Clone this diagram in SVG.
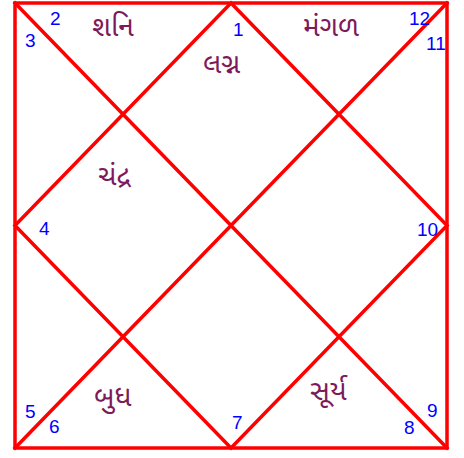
<svg xmlns="http://www.w3.org/2000/svg" width="464" height="458" viewBox="0 0 464 458">
<style>
.ln{stroke:#ff0000;stroke-width:3.5;fill:none;stroke-linecap:square}
.n{font-family:"Liberation Sans",Arial,sans-serif;font-size:19px;fill:#0000ff}
.p{font-family:"Noto Sans Gujarati","Lohit Gujarati","Shruti","Noto Sans",sans-serif;font-size:28px;fill:#7d1a5a}
</style>
<rect width="464" height="458" fill="#ffffff"/>
<g id="connectors">
<rect class="ln" x="15" y="3" width="432" height="445"/>
<line class="ln" x1="15" y1="3" x2="447" y2="448"/>
<line class="ln" x1="447" y1="3" x2="15" y2="448"/>
<polygon class="ln" points="231,3 447,225.5 231,448 15,225.5"/>
</g>
<g id="house1"><text class="n" x="233" y="36">1</text><text class="p" x="203" y="73">લગ્ન</text></g>
<g id="house2"><text class="n" x="50" y="25">2</text><text class="p" x="92" y="36">શનિ</text></g>
<g id="house3"><text class="n" x="25" y="47">3</text></g>
<g id="house4"><text class="n" x="39" y="235">4</text><text class="p" x="98" y="185">ચંદ્ર</text></g>
<g id="house5"><text class="n" x="25" y="418">5</text></g>
<g id="house6"><text class="n" x="49" y="433">6</text><text class="p" x="94" y="406">બુધ</text></g>
<g id="house7"><text class="n" x="232" y="429">7</text></g>
<g id="house8"><text class="n" x="404" y="434">8</text><text class="p" x="310" y="400">સૂર્ય</text></g>
<g id="house9"><text class="n" x="427" y="417">9</text></g>
<g id="house10"><text class="n" x="417" y="236">10</text></g>
<g id="house11"><text class="n" x="426" y="50">11</text></g>
<g id="house12"><text class="n" x="409" y="25">12</text><text class="p" x="303" y="36">મંગળ</text></g>
</svg>
